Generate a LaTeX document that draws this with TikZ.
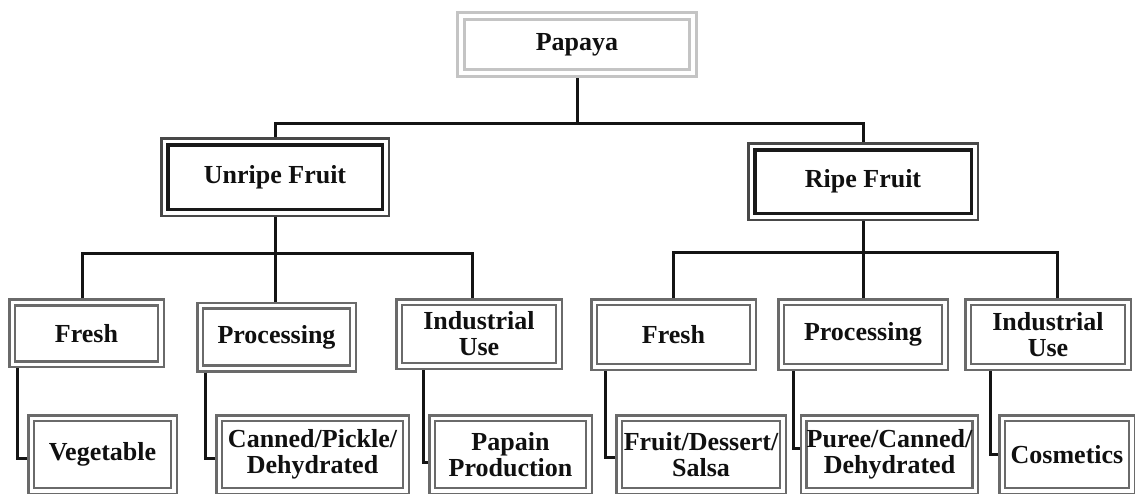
\documentclass[tikz,border=0pt]{standalone}
\usepackage{fontspec}
\setmainfont{Liberation Serif}
\definecolor{gl}{HTML}{6A6A6A}
\definecolor{pl}{HTML}{C4C4C4}
\definecolor{bo}{HTML}{484848}
\definecolor{txt}{HTML}{101010}
\tikzset{
  box/.style={fill=white, align=center, inner sep=0pt, text=txt,
    font=\fontsize{26}{26}\selectfont\bfseries},
  greybox/.style={box, draw=gl, line width=2.5pt, outer sep=7pt,
    preaction={draw=gl, line width=14pt}, preaction={draw=white, line width=9pt}},
  palebox/.style={box, draw=pl, line width=2.8pt, outer sep=8.3pt,
    preaction={draw=pl, line width=16.6pt}, preaction={draw=white, line width=11pt}},
  bigbox/.style={box, draw=black!90, line width=3.6pt, outer sep=7.7pt,
    preaction={draw=bo, line width=15.4pt}, preaction={draw=white, line width=10.4pt}},
  conn/.style={draw=black!92, line width=3pt},
}
\begin{document}
\begin{tikzpicture}[x=1pt, y=-1pt]
\useasboundingbox (0,0) rectangle (1135,493);
% level 0
\node[palebox, minimum width=225.4pt, minimum height=50.4pt] (papaya) at (577,44.5) {Papaya};
% level 1
\node[bigbox, minimum width=214.6pt, minimum height=64.6pt] (unripe) at (275,177) {Unripe Fruit};
\node[bigbox, minimum width=216.6pt, minimum height=63.6pt] (ripe) at (863,181.7) {Ripe Fruit};
% level 2
\node[greybox, minimum width=143pt, minimum height=56pt] (freshL) at (86.5,333.3) {Fresh};
\node[greybox, minimum width=147pt, minimum height=57pt] (procL) at (276.5,337.2) {Processing};
\node[greybox, minimum width=154pt, minimum height=58pt] (indL) at (479,334) {Industrial\\Use};
\node[greybox, minimum width=153pt, minimum height=59pt] (freshR) at (673.5,334.5) {Fresh};
\node[greybox, minimum width=158pt, minimum height=59pt] (procR) at (863,334.5) {Processing};
\node[greybox, minimum width=154pt, minimum height=59pt] (indR) at (1048,334.5) {Industrial\\Use};
% level 3
\node[greybox, minimum width=137pt, minimum height=67pt] (veg) at (102.5,454.5) {Vegetable};
\node[greybox, minimum width=181pt, minimum height=67pt] (canned) at (312.5,454.5) {Canned/Pickle/\\Dehydrated};
\node[greybox, minimum width=151pt, minimum height=67pt] (papain) at (510.5,454.5) {Papain\\Production};
\node[greybox, minimum width=158pt, minimum height=67pt] (fruitd) at (701,454.5) {Fruit/Dessert/\\Salsa};
\node[greybox, minimum width=157pt, minimum height=67pt] (puree) at (889.5,454.5) {Puree/Canned/\\Dehydrated};
\node[greybox, minimum width=124pt, minimum height=67pt] (cosm) at (1067,454.5) {Cosmetics};
% connectors level 0-1
\coordinate (j1) at ([yshift=-45pt]papaya.south);
\draw[conn] (papaya.south) -- (j1);
\draw[conn] (unripe.north) |- (j1) -| (ripe.north);
% connectors level 1-2
\coordinate (j2) at ([yshift=-36pt]unripe.south);
\draw[conn] (unripe.south) -- (unripe.south |- procL.north);
\draw[conn] ([xshift=-4.5pt]freshL.north) |- (j2) -| ([xshift=-7pt]indL.north);
\coordinate (j3) at ([yshift=-31.3pt]ripe.south);
\draw[conn] (ripe.south) -- (ripe.south |- procR.north);
\draw[conn] ([xshift=-0.5pt]freshR.north) |- (j3) -| ([xshift=9pt]indR.north);
% connectors level 2-3
\draw[conn] ([xshift=9pt]freshL.south west) |- ([yshift=-3.5pt]veg.west);
\draw[conn] ([xshift=9pt]procL.south west) |- ([yshift=-3.5pt]canned.west);
\draw[conn] ([xshift=28pt]indL.south west) |- ([yshift=-7.5pt]papain.west);
\draw[conn] ([xshift=15pt]freshR.south west) |- ([yshift=-2.5pt]fruitd.west);
\draw[conn] ([xshift=16pt]procR.south west) |- ([yshift=6.5pt]puree.west);
\draw[conn] ([xshift=26pt]indR.south west) |- ([yshift=0.5pt]cosm.west);
\end{tikzpicture}
\end{document}
